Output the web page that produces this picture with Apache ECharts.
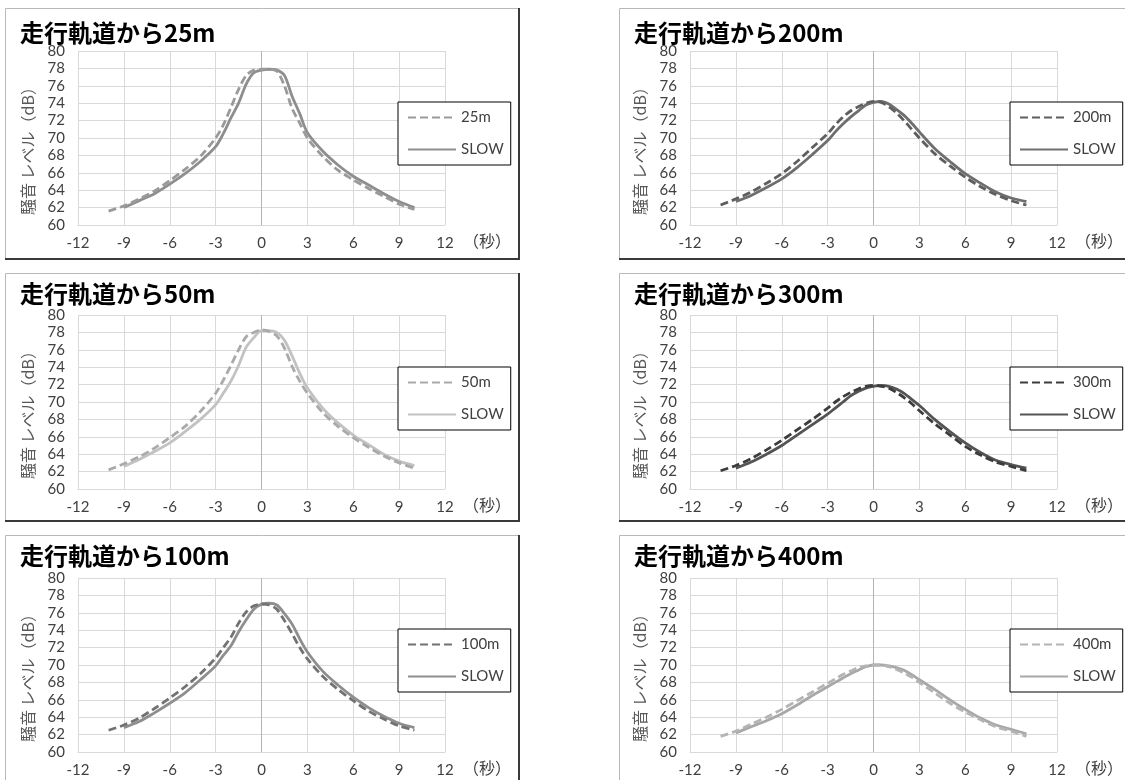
<!DOCTYPE html>
<html><head><meta charset="utf-8">
<script src="https://cdn.jsdelivr.net/npm/echarts@6/dist/echarts.min.js"></script>
<style>html,body{margin:0;padding:0;background:#fff}#c{width:1125px;height:780px}</style>
</head><body><div id="c"></div>
<script>
// time (s)
const T  = [-10,-9,-8,-7,-6,-5,-4,-3,-2.5,-2,-1.5,-1,-0.5,0,0.5,1,1.5,2,2.5,3,4,5,6,7,8,9,10];
const TS = [-9,-8,-7,-6,-5,-4,-3,-2.5,-2,-1.5,-1,-0.5,0,0.5,1,1.5,2,2.5,3,4,5,6,7,8,9,10];

// 25m
const d25  = [61.6,62.2,63.0,63.9,65.1,66.4,67.9,70.0,71.5,73.5,75.6,77.2,77.8,77.9,77.9,77.7,76.0,73.4,71.7,70.0,67.9,66.3,65.2,64.2,63.3,62.4,61.8];
const s25  = [62.0,62.8,63.6,64.7,65.9,67.3,69.0,70.5,72.3,74.0,76.2,77.5,77.8,77.9,77.8,77.2,74.8,72.8,70.6,68.5,66.9,65.6,64.6,63.6,62.7,62.0];
// 50m
const d50  = [62.2,62.9,63.7,64.7,65.9,67.2,68.9,71.0,72.5,74.2,76.0,77.5,78.0,78.3,78.1,77.6,76.2,74.1,72.4,71.0,68.8,67.2,65.9,64.8,63.8,63.0,62.4];
const s50  = [62.6,63.4,64.3,65.3,66.6,68.0,69.7,71.0,72.4,74.2,76.3,77.4,78.2,78.2,78.0,77.1,75.3,73.3,71.6,69.3,67.6,66.2,65.1,64.0,63.2,62.7];
// 100m
const d100 = [62.5,63.1,63.9,65.0,66.2,67.5,69.0,70.8,72.0,73.2,74.8,76.1,76.8,77.0,76.9,76.4,75.1,73.6,72.0,70.7,68.7,67.2,65.9,64.7,63.8,63.0,62.5];
const s100 = [62.8,63.5,64.5,65.6,66.8,68.3,69.9,71.1,72.2,73.8,75.2,76.4,77.0,77.1,76.9,75.9,74.7,73.0,71.5,69.3,67.7,66.3,65.1,64.1,63.3,62.8];
// 200m
const d200 = [62.3,63.0,63.8,64.8,65.9,67.3,68.9,70.5,71.5,72.4,73.1,73.6,74.0,74.2,74.1,73.6,72.9,72.0,71.0,70.0,68.2,66.8,65.5,64.4,63.5,62.8,62.3];
const s200 = [62.7,63.4,64.3,65.3,66.6,68.1,69.7,70.7,71.6,72.4,73.1,73.8,74.1,74.2,73.9,73.3,72.6,71.7,70.7,68.8,67.3,65.9,64.8,63.8,63.1,62.7];
// 300m
const d300 = [62.1,62.7,63.5,64.5,65.6,66.8,68.0,69.3,70.0,70.6,71.1,71.5,71.8,71.9,71.8,71.6,71.1,70.5,69.8,69.0,67.5,66.2,64.9,63.9,63.1,62.6,62.1];
const s300 = [62.4,63.1,64.0,65.0,66.2,67.4,68.6,69.3,70.0,70.7,71.2,71.6,71.8,71.9,71.8,71.5,71.0,70.3,69.6,68.0,66.6,65.3,64.2,63.3,62.8,62.4];
// 400m
const d400 = [61.8,62.4,63.2,64.0,64.9,65.9,66.9,67.9,68.4,68.9,69.3,69.7,69.9,70.0,70.0,69.8,69.5,69.1,68.6,68.0,66.8,65.6,64.6,63.7,62.9,62.4,61.8];
const s400 = [62.2,62.9,63.6,64.4,65.4,66.5,67.5,68.0,68.5,69.0,69.4,69.8,70.0,70.0,69.9,69.7,69.4,68.9,68.3,67.2,66.0,64.9,63.9,63.1,62.6,62.1];

const titles = ['走行軌道から25m','走行軌道から50m','走行軌道から100m','走行軌道から200m','走行軌道から300m','走行軌道から400m'];
const dashNames = ['25m','50m','100m','200m','300m','400m'];
const slowName = 'SLOW';
const yName = '騒音 レベル（dB）';
const xName = '（秒）';

const panels = [
  {d:d25,  s:s25,  col:0,row:0, cd:'#9a9a9a', cs:'#8e8e8e'},
  {d:d50,  s:s50,  col:0,row:1, cd:'#aaaaaa', cs:'#c2c2c2'},
  {d:d100, s:s100, col:0,row:2, cd:'#727272', cs:'#8e8e8e'},
  {d:d200, s:s200, col:1,row:0, cd:'#5e5e5e', cs:'#6e6e6e'},
  {d:d300, s:s300, col:1,row:1, cd:'#3c3c3c', cs:'#545454'},
  {d:d400, s:s400, col:1,row:2, cd:'#b4b4b4', cs:'#a8a8a8'}
];

const colBox = [{x:5,w:514},{x:619,w:520}];
const rowBox = [{y:8,h:251},{y:273,h:248},{y:535,h:260}];
const titleY = [33, 294, 556];
const colGrid = [78, 690];
const rowGrid = [51, 315, 578];
const GW = 367, GH = 174;

const grids=[], xAxes=[], yAxes=[], series=[], legends=[], graphics=[];
const splitColors = ['#d9d9d9','#d9d9d9','#d9d9d9','#d9d9d9','#b3b3b3','#d9d9d9','#d9d9d9','#d9d9d9','#d9d9d9'];

panels.forEach((p,i)=>{
  const gl = colGrid[p.col], gt = rowGrid[p.row];
  grids.push({left:gl, top:gt, width:GW, height:GH});
  xAxes.push({type:'value', gridIndex:i, min:-12, max:12, interval:3,
    axisLine:{show:true, onZero:false, lineStyle:{color:'#d9d9d9'}},
    axisTick:{show:false},
    axisLabel:{color:'#404040', fontFamily:'Lato', fontSize:15, margin:11},
    splitLine:{show:true, lineStyle:{color:splitColors, width:1}}});
  yAxes.push({type:'value', gridIndex:i, min:60, max:80, interval:2,
    axisLine:{show:false}, axisTick:{show:false},
    axisLabel:{color:'#404040', fontFamily:'Lato', fontSize:15, margin:13},
    splitLine:{show:true, lineStyle:{color:'#d9d9d9', width:1}},
    name:yName, nameLocation:'middle', nameGap:42,
    nameTextStyle:{color:'#595959', fontSize:16, fontFamily:'Noto Sans CJK JP', padding:[0,18,0,0]}});
  const nd = dashNames[i], ns = slowName + '#' + i;
  series.push({type:'line', name:nd, xAxisIndex:i, yAxisIndex:i, symbol:'none', smooth:0.3,
    data:T.map((t,k)=>[t,p.d[k]]), lineStyle:{color:p.cd, width:2.8, type:[8,4]}, itemStyle:{color:p.cd}, z:3});
  series.push({type:'line', name:ns, xAxisIndex:i, yAxisIndex:i, symbol:'none', smooth:0.3,
    data:TS.map((t,k)=>[t,p.s[k]]), lineStyle:{color:p.cs, width:2.8, type:'solid'}, itemStyle:{color:p.cs}, z:2});
  legends.push({data:[nd, ns], orient:'vertical', left: p.col===0 ? 398 : 1010, top: rowBox[p.row].y + 94,
    itemWidth:48, itemHeight:14, itemGap:17, padding:[8,7,8,9],
    borderColor:'#000', borderWidth:1, backgroundColor:'#fff', selectedMode:false,
    itemStyle:{opacity:0, borderWidth:0},
    textStyle:{fontFamily:'Lato', fontSize:15, color:'#404040'},
    formatter:(n)=>n.split('#')[0]});
  const b = colBox[p.col], r = rowBox[p.row];
  graphics.push({type:'rect', shape:{x:b.x+0.5, y:r.y+0.5, width:b.w, height:r.h}, style:{fill:'none', stroke:'#b8b8b8', lineWidth:1}, z:-1});
  graphics.push({type:'line', shape:{x1:b.x+b.w, y1:r.y, x2:b.x+b.w, y2:r.y+r.h+1}, style:{stroke:'#3a3a3a', lineWidth:2}});
  graphics.push({type:'line', shape:{x1:b.x, y1:r.y+r.h, x2:b.x+b.w+1, y2:r.y+r.h}, style:{stroke:'#3a3a3a', lineWidth:2}});
  graphics.push({type:'text', x:b.x+15, y:titleY[p.row], style:{text:titles[i], fill:'#000', font:'bold 24px "Noto Sans CJK JP"', verticalAlign:'middle'}});
  graphics.push({type:'text', x:gl+GW+42, y:gt+GH+16, style:{text:xName, fill:'#404040', font:'16px "Noto Sans CJK JP"', align:'center', verticalAlign:'middle'}});
});

const chart = echarts.init(document.getElementById('c'), null, {renderer:'canvas'});
chart.setOption({
  animation:false,
  backgroundColor:'#fff',
  grid:grids, xAxis:xAxes, yAxis:yAxes, series:series, legend:legends, graphic:graphics
});
</script></body></html>
